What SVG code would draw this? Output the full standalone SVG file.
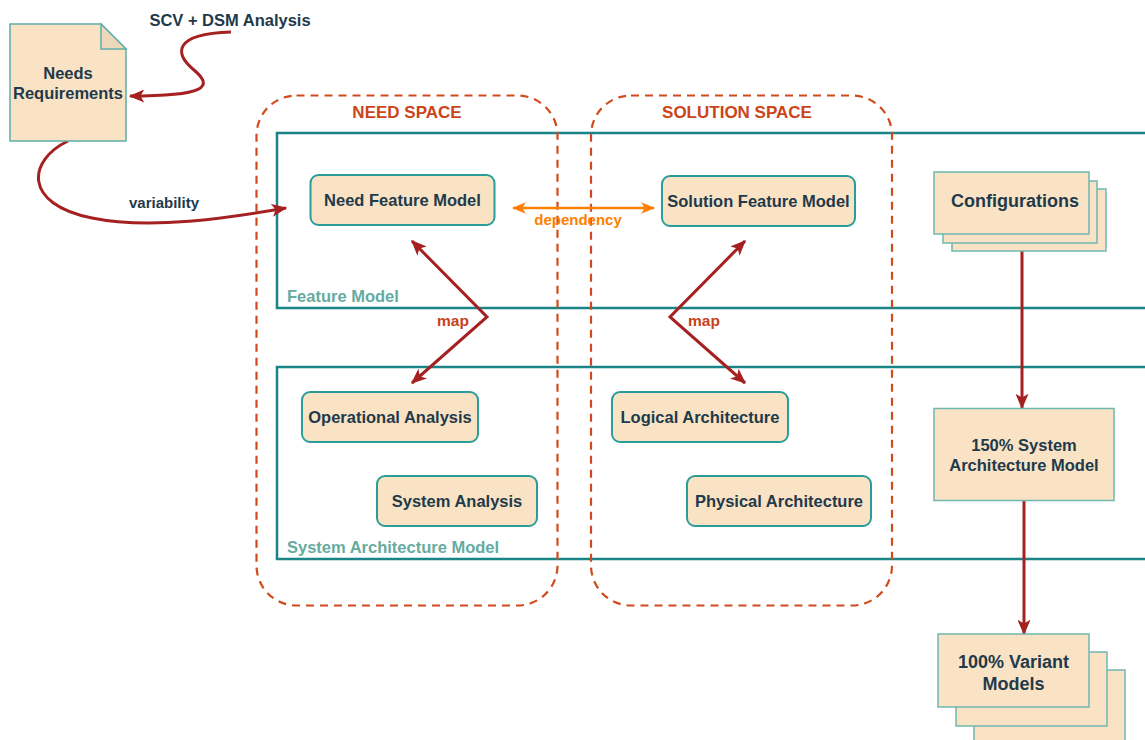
<svg xmlns="http://www.w3.org/2000/svg" width="1145" height="740" viewBox="0 0 1145 740">
  <style>
    text { font-family: "Liberation Sans", Arial, sans-serif; font-weight: bold; }
    .dark { fill: #1F3A4A; font-size: 16.5px; text-anchor: middle; }
    .big { font-size: 18px; }
    .space { fill: #CC4419; font-size: 17px; text-anchor: middle; }
    .map { fill: #C8411B; font-size: 15.5px; text-anchor: middle; }
    .lane { fill: #67AB9F; font-size: 16.5px; }
    .node { fill: #FAE3C5; stroke: #2A9D9A; stroke-width: 2; }
    .sheet { fill: #FAE3C5; stroke: #6FB8B0; stroke-width: 1.5; }
    .container { fill: none; stroke: #1A8587; stroke-width: 2.5; }
    .dashed { fill: none; stroke: #D04A1C; stroke-width: 2.2; stroke-dasharray: 8 6; }
    .red { fill: none; stroke: #A52121; stroke-width: 3; }
    .orange { fill: none; stroke: #FF8000; stroke-width: 2.5; }
  </style>
  <defs>
    <marker id="headRed" viewBox="0 0 12 10" refX="11" refY="5" markerWidth="16" markerHeight="13" markerUnits="userSpaceOnUse" orient="auto-start-reverse">
      <path d="M0,0 L12,5 L0,10 L3,5 Z" fill="#A52121"/>
    </marker>
    <marker id="headOrange" viewBox="0 0 12 10" refX="11" refY="5" markerWidth="14" markerHeight="12" markerUnits="userSpaceOnUse" orient="auto-start-reverse">
      <path d="M0,0 L12,5 L0,10 L3,5 Z" fill="#FF8000"/>
    </marker>
  </defs>

  <!-- lane containers -->
  <g id="feature-model">
    <path class="container" d="M1150,133 H277 V308 H1150"/>
    <text class="lane" x="287" y="302">Feature Model</text>
  </g>
  <g id="system-architecture-model">
    <path class="container" d="M1150,367 H277 V559 H1150"/>
    <text class="lane" x="287" y="553">System Architecture Model</text>
  </g>

  <!-- need / solution spaces -->
  <g id="need-space">
    <rect class="dashed" x="256.5" y="95.5" width="301" height="510" rx="40"/>
    <text class="space" x="407" y="118">NEED SPACE</text>
  </g>
  <g id="solution-space">
    <rect class="dashed" x="591" y="95.5" width="301" height="510" rx="40"/>
    <text class="space" x="737" y="118">SOLUTION SPACE</text>
  </g>

  <!-- connectors -->
  <g id="connectors">
    <path class="red" d="M231,32 C170,34 176,55 194,70 C214,87 206,96 130,96" marker-end="url(#headRed)"/>
    <path class="red" d="M68,141 C28,160 22,204 92,218 C150,230 228,218 286,208" marker-end="url(#headRed)"/>
    <text class="dark" x="164" y="208" style="font-size:15px">variability</text>
    <line class="orange" x1="513" y1="208" x2="654" y2="208" marker-start="url(#headOrange)" marker-end="url(#headOrange)"/>
    <text x="578" y="225" style="fill:#FF8000;font-size:15px;text-anchor:middle">dependency</text>
    <polyline class="red" points="412,241 487,317 412,383" marker-start="url(#headRed)" marker-end="url(#headRed)"/>
    <text class="map" x="453" y="326">map</text>
    <polyline class="red" points="745,241 670,317 745,383" marker-start="url(#headRed)" marker-end="url(#headRed)"/>
    <text class="map" x="704" y="326">map</text>
    <line class="red" x1="1022" y1="251" x2="1022" y2="408" marker-end="url(#headRed)"/>
    <line class="red" x1="1024" y1="501" x2="1024" y2="634" marker-end="url(#headRed)"/>
  </g>

  <!-- nodes -->
  <g id="needs-requirements">
    <path d="M10,24 H101 L126,49 V141 H10 Z" fill="#FAE3C5" stroke="#5FAFA8" stroke-width="1.5"/>
    <path d="M101,24 V49 H126 Z" fill="#EDD8B9" stroke="#5FAFA8" stroke-width="1.5"/>
    <text class="dark" x="68" y="79">Needs</text>
    <text class="dark" x="68" y="99">Requirements</text>
  </g>
  <g id="scv-dsm">
    <text class="dark" x="230" y="26">SCV + DSM Analysis</text>
  </g>
  <g id="need-feature-model">
    <rect class="node" x="310.5" y="175" width="184" height="50" rx="8"/>
    <text class="dark" x="402.5" y="206">Need Feature Model</text>
  </g>
  <g id="solution-feature-model">
    <rect class="node" x="662" y="176" width="193" height="50" rx="8"/>
    <text class="dark" x="758.5" y="207">Solution Feature Model</text>
  </g>
  <g id="configurations">
    <rect class="sheet" x="952" y="189" width="154" height="62"/>
    <rect class="sheet" x="943" y="181" width="154" height="62"/>
    <rect class="sheet" x="934" y="172" width="155" height="62"/>
    <text class="dark big" x="1015" y="207">Configurations</text>
  </g>
  <g id="operational-analysis">
    <rect class="node" x="302" y="392" width="176" height="50" rx="8"/>
    <text class="dark" x="390" y="423">Operational Analysis</text>
  </g>
  <g id="system-analysis">
    <rect class="node" x="377" y="476" width="160" height="50" rx="8"/>
    <text class="dark" x="457" y="507">System Analysis</text>
  </g>
  <g id="logical-architecture">
    <rect class="node" x="612" y="392" width="176" height="50" rx="8"/>
    <text class="dark" x="700" y="423">Logical Architecture</text>
  </g>
  <g id="physical-architecture">
    <rect class="node" x="687" y="476" width="184" height="50" rx="8"/>
    <text class="dark" x="779" y="507">Physical Architecture</text>
  </g>
  <g id="system-architecture-150">
    <rect class="sheet" x="934" y="408.5" width="180" height="92"/>
    <text class="dark" x="1024" y="451">150% System</text>
    <text class="dark" x="1024" y="471">Architecture Model</text>
  </g>
  <g id="variant-models-100">
    <rect class="sheet" x="974" y="670" width="151" height="80"/>
    <rect class="sheet" x="956" y="652" width="151" height="74"/>
    <rect class="sheet" x="938" y="634" width="151" height="73"/>
    <text class="dark big" x="1013.5" y="667.5">100% Variant</text>
    <text class="dark big" x="1013.5" y="689.5">Models</text>
  </g>
</svg>
